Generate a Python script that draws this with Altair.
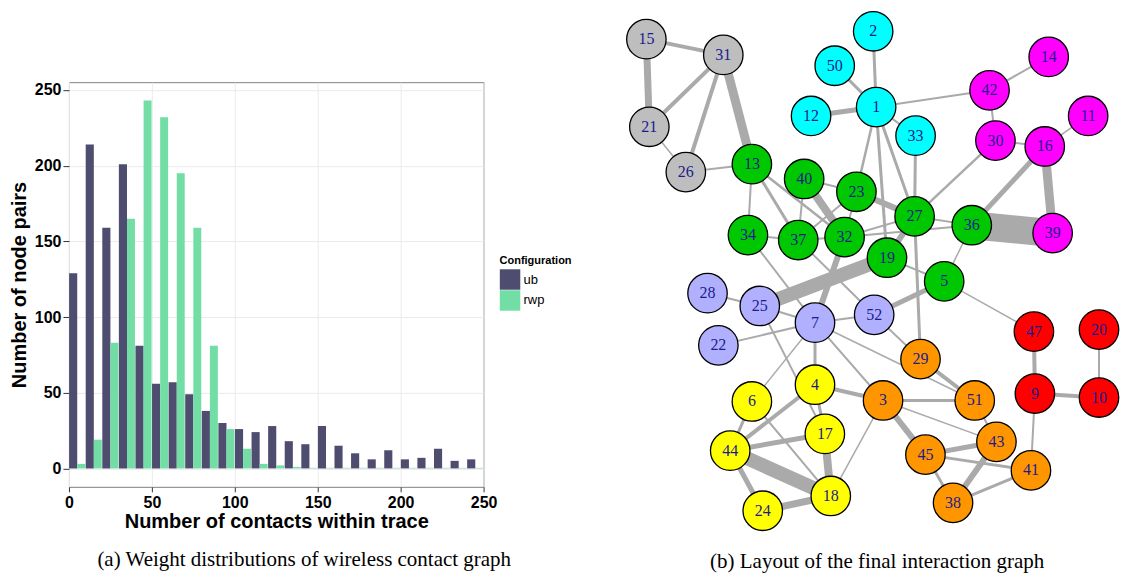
import altair as alt
import pandas as pd

# ---------------- Histogram data (left panel) ----------------
bin_start = [0, 10, 20, 30, 40, 50, 60, 70, 80, 90, 100, 110, 120,
             130, 140, 150, 160, 170, 180, 190, 200, 210, 220, 230, 240]
ub_counts = [129, 214, 159, 201, 81, 56, 57, 49, 38, 30, 26, 24, 28,
             18, 16, 28, 15, 10, 6, 12, 6, 7, 13, 5, 6]
rwp_counts = [3, 19, 83, 165, 243, 232, 195, 159, 81, 26, 13, 3, 2,
              1, 0.4, 0.4, 0.4, 0.4, 0.4, 0.4, 0.4, 0.4, 0.4, 0.4, 0.4]
configs = ["ub", "rwp"]
config_colors = ["#4E4D70", "#72DEA6"]
x_ticks = [0, 50, 100, 150, 200, 250]
y_ticks = [0, 50, 100, 150, 200, 250]

# ---------------- Graph data (right panel) ----------------
node_id = [15, 31, 21, 26, 2, 50, 1, 12, 33, 42, 14, 30, 16, 11, 39,
           13, 40, 23, 34, 37, 32, 19, 27, 36, 5,
           28, 25, 22, 7, 52,
           29, 3, 51, 43, 45, 41, 38,
           47, 20, 9, 10,
           4, 6, 17, 44, 18, 24]
node_x = [648, 726, 651, 688, 878, 839, 881, 815, 921, 996, 1056, 1002, 1052, 1096, 1060,
          755, 808, 861, 751, 802, 849, 892, 920, 978, 950,
          710, 763, 721, 819, 879,
          926, 888, 981, 1003, 931, 1038, 959,
          1041, 1107, 1042, 1107,
          819, 755, 829, 733, 835, 766]
node_y = [29, 45, 118, 164, 21, 56, 98, 107, 127, 81, 47, 132, 138, 107, 226,
          156, 171, 184, 228, 233, 230, 251, 209, 218, 275,
          287, 300, 340, 317, 309,
          354, 396, 396, 438, 451, 467, 500,
          326, 324, 389, 393,
          380, 397, 430, 447, 493, 508]
node_group = ["gray"] * 4 + ["cyan"] * 5 + ["magenta"] * 6 + ["green"] * 10 + \
             ["blue"] * 5 + ["orange"] * 7 + ["red"] * 4 + ["yellow"] * 6
group_names = ["gray", "cyan", "magenta", "green", "blue", "orange", "red", "yellow"]
group_fills = ["#BEBEBE", "#00FFFF", "#FF00FF", "#00C800", "#B0B0FF", "#FF9600", "#FF0000", "#FFFF00"]

edge_src = [15, 15, 21, 21, 26, 31, 26,
            2, 50, 12, 1, 1, 1, 1, 1, 33,
            42, 42, 30, 16, 30, 16, 16, 36,
            13, 13, 13, 40, 40, 40, 23, 23, 23, 34, 37, 32, 32, 27, 27, 19, 36, 27,
            28, 25, 25, 22, 7, 32, 34, 37, 5, 7, 7, 7, 7, 25, 52, 5,
            4, 17, 44, 44, 24, 6, 6, 4, 3, 4, 17,
            3, 3, 3, 29, 45, 45, 45, 43, 38, 51, 41,
            47, 9, 20]
edge_dst = [31, 21, 31, 26, 31, 13, 13,
            1, 1, 1, 33, 42, 23, 19, 27, 27,
            14, 30, 16, 11, 27, 36, 39, 39,
            34, 37, 32, 23, 37, 32, 37, 32, 27, 37, 32, 36, 27, 36, 19, 5, 5, 29,
            25, 19, 7, 7, 52, 7, 7, 52, 52, 4, 3, 51, 6, 17, 29, 47,
            44, 44, 18, 24, 18, 44, 18, 3, 18, 17, 18,
            51, 43, 45, 51, 43, 41, 38, 38, 41, 43, 9,
            9, 10, 10]
edge_w = [4, 7, 4, 1.5, 4, 9, 2,
          3, 3, 5, 2, 2, 2.5, 3, 3, 3,
          2, 2, 2, 1.5, 2.5, 5, 9, 28,
          2, 3, 2.5, 2, 2, 8, 2, 2, 6, 2, 2, 2, 2, 2, 6, 2, 1.5, 3,
          2, 14, 2, 2, 2, 6, 2, 2, 5, 3, 2, 1.5, 1.5, 2, 2, 1.5,
          4, 5, 14, 5, 7, 3, 2, 4, 1.5, 3, 8,
          3, 1.5, 6, 4, 5, 3, 3, 6, 3, 2, 2,
          4, 4, 2]

# ---------------- Build tables ----------------
hist_rows = []
for b, u, r in zip(bin_start, ub_counts, rwp_counts):
    hist_rows.append({"bin": b, "config": "ub", "count": u})
    hist_rows.append({"bin": b, "config": "rwp", "count": r})
hist_df = pd.DataFrame(hist_rows)

fill_of = dict(zip(group_names, group_fills))
nodes_df = pd.DataFrame({
    "id": [str(i) for i in node_id],
    "x": node_x,
    "y": node_y,
    "fill": [fill_of[g] for g in node_group],
})
pos = {i: (x, y) for i, x, y in zip(node_id, node_x, node_y)}
edges_df = pd.DataFrame({
    "x": [pos[s][0] for s in edge_src],
    "y": [pos[s][1] for s in edge_src],
    "x2": [pos[t][0] for t in edge_dst],
    "y2": [pos[t][1] for t in edge_dst],
    "w": edge_w,
})

SANS = "Liberation Sans"
SERIF = "Liberation Serif"

# ---------------- Left: histogram ----------------
left = alt.Chart(hist_df).transform_calculate(
    x0="datum.bin + (datum.config == 'ub' ? 0.1 : 5)",
    x1="datum.bin + (datum.config == 'ub' ? 5 : 9.8)",
).mark_rect().encode(
    x=alt.X("x0:Q",
            scale=alt.Scale(domain=[0, 250], nice=False, zero=False),
            axis=alt.Axis(values=x_ticks, title="Number of contacts within trace",
                          titleFont=SANS, titleFontSize=20, titleFontWeight="bold",
                          titleColor="black", titlePadding=1,
                          labelFont=SANS, labelFontSize=16, labelFontWeight="bold",
                          labelColor="black", labelPadding=3, labelFlush=False,
                          tickColor="#333333", tickSize=5, domain=False,
                          gridColor="#EBEBEB")),
    x2="x1:Q",
    y=alt.Y("count:Q",
            scale=alt.Scale(domain=[-12.15, 255.15], nice=False, zero=False),
            axis=alt.Axis(values=y_ticks, title="Number of node pairs",
                          titleFont=SANS, titleFontSize=20, titleFontWeight="bold",
                          titleColor="black", titlePadding=5,
                          labelFont=SANS, labelFontSize=16, labelFontWeight="bold",
                          labelColor="black", labelPadding=2,
                          tickColor="#333333", tickSize=6, domain=False,
                          gridColor="#EBEBEB")),
    y2=alt.datum(0),
    color=alt.Color("config:N",
                    scale=alt.Scale(domain=configs, range=config_colors),
                    legend=alt.Legend(title="Configuration", orient="none",
                                      legendX=431, legendY=173,
                                      titleFont=SANS, titleFontSize=11,
                                      titleFontWeight="bold", titleColor="black",
                                      titlePadding=3,
                                      labelFont=SANS, labelFontSize=13,
                                      labelColor="black", labelOffset=3,
                                      symbolType="square", symbolSize=420,
                                      symbolStrokeWidth=0, symbolOpacity=1,
                                      rowPadding=0)),
).properties(
    width=415, height=405,
    view=alt.ViewBackground(stroke="#7F7F7F", strokeWidth=1),
    title=alt.TitleParams("(a) Weight distributions of wireless contact graph",
                          orient="bottom", anchor="middle", frame="group",
                          font=SERIF, fontSize=21, fontWeight="normal",
                          color="black", offset=17, dx=28),
)

# ---------------- Right: network graph ----------------
xs = alt.Scale(domain=[613.6, 1120.2], nice=False, zero=False)
ys = alt.Scale(domain=[72.7, 483.7], nice=False, zero=False, reverse=True)

edges = alt.Chart(edges_df).mark_rule(color="#AAAAAA", strokeCap="butt").encode(
    x=alt.X("x:Q", scale=xs, axis=None),
    y=alt.Y("y:Q", scale=ys, axis=None),
    x2="x2:Q",
    y2="y2:Q",
    strokeWidth=alt.StrokeWidth("w:Q", scale=None),
)
nodes = alt.Chart(nodes_df).mark_circle(size=1560, stroke="black", strokeWidth=1.3,
                                        opacity=1).encode(
    x=alt.X("x:Q", scale=xs, axis=None),
    y=alt.Y("y:Q", scale=ys, axis=None),
    fill=alt.Fill("fill:N", scale=None),
)
labels = alt.Chart(nodes_df).mark_text(font=SERIF, fontSize=16, color="#1C1C8C",
                                       align="center", baseline="middle").encode(
    x=alt.X("x:Q", scale=xs, axis=None),
    y=alt.Y("y:Q", scale=ys, axis=None),
    text="id:N",
)
right = alt.layer(edges, nodes, labels).properties(
    width=500, height=405,
    view=alt.ViewBackground(stroke="transparent"),
    title=alt.TitleParams("(b) Layout of the final interaction graph",
                          orient="bottom", anchor="middle", frame="group",
                          font=SERIF, fontSize=21, fontWeight="normal",
                          color="black", offset=18, dx=15),
)

chart = alt.hconcat(left, right, spacing=129, bounds="flush").resolve_scale(
    x="independent", y="independent", color="independent"
).properties(padding=0).configure(font=SANS)

chart.save("out.html", embed_options={"renderer": "svg", "actions": False})
